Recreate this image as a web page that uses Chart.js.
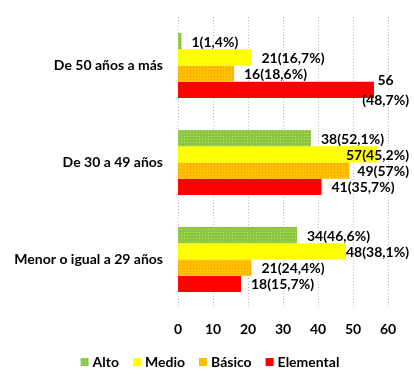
<!DOCTYPE html>
<html><head><meta charset="utf-8">
<script src="https://cdn.jsdelivr.net/npm/chart.js@4"></script>
<style>html,body{margin:0;padding:0;background:#fff}#wrap{width:414px;height:375px}</style>
</head><body><div id="wrap"><canvas id="c" width="414" height="375"></canvas></div>
<script>
const categories = ["De 50 años a más", "De 30 a 49 años", "Menor o igual a 29 años"];
const seriesNames = ["Alto", "Medio", "Básico", "Elemental"];
const alto = [1, 38, 34];
const medio = [21, 57, 48];
const basico = [16, 49, 21];
const elemental = [56, 41, 18];
const altoPct = [1.4, 52.1, 46.6];
const medioPct = [16.7, 45.2, 38.1];
const basicoPct = [18.6, 57, 24.4];
const elementalPct = [48.7, 35.7, 15.7];
const xTicks = [0, 10, 20, 30, 40, 50, 60];

const FONT = "Lato";

function pattern(base, dot) {
  const c = document.createElement('canvas');
  c.width = 3; c.height = 3;
  const g = c.getContext('2d');
  g.fillStyle = base; g.fillRect(0, 0, 3, 3);
  g.fillStyle = dot; g.fillRect(1, 1, 1, 1);
  return document.getElementById('c').getContext('2d').createPattern(c, 'repeat');
}
const greenFill = pattern('#8CC63F', '#B8E27A');
const orangeFill = pattern('#FFC000', '#F29A00');

const fmtPct = p => String(p).replace('.', ',');

const labelPlugin = {
  id: 'barLabels',
  afterDatasetsDraw(chart) {
    const ctx = chart.ctx;
    const rightLimit = chart.width - 5;
    ctx.save();
    ctx.font = `bold 14px ${FONT}`;
    ctx.fillStyle = '#000';
    ctx.textBaseline = 'middle';
    chart.data.datasets.forEach((ds, di) => {
      const meta = chart.getDatasetMeta(di);
      meta.data.forEach((el, i) => {
        const v = ds.data[i];
        const text = `${v}(${fmtPct(ds.pct[i])}%)`;
        const w = ctx.measureText(text).width;
        let x = el.x + 10;
        const y = el.y + 1;
        if (x + w > rightLimit && ds.wrapOverflow) {
          const l1 = String(v), l2 = `(${fmtPct(ds.pct[i])}%)`;
          const w2 = ctx.measureText(l2).width;
          const cx = rightLimit - w2 / 2;
          ctx.textAlign = 'center';
          ctx.fillText(l1, cx, y - 10);
          ctx.fillText(l2, cx, y + 10);
          return;
        }
        if (x + w > rightLimit) x = rightLimit - w;
        ctx.textAlign = 'left';
        ctx.fillText(text, x, y);
      });
    });
    ctx.restore();
  }
};

const legendPlugin = {
  id: 'customLegend',
  afterDraw(chart) {
    const ctx = chart.ctx;
    ctx.save();
    ctx.font = `bold 14px ${FONT}`;
    ctx.textBaseline = 'middle';
    const box = 8, gapText = 4, gapItem = 14, cy = 362, centerX = 210;
    const items = chart.data.datasets.map(ds => ({ ds, w: ctx.measureText(ds.label).width }));
    const total = items.reduce((s, it) => s + box + gapText + it.w, 0) + gapItem * (items.length - 1);
    let x = centerX - total / 2;
    items.forEach(it => {
      ctx.fillStyle = it.ds.backgroundColor;
      ctx.fillRect(x, cy - 4, box, box);
      ctx.fillStyle = '#000';
      ctx.textAlign = 'left';
      ctx.fillText(it.ds.label, x + box + gapText, cy);
      x += box + gapText + it.w + gapItem;
    });
    ctx.restore();
  }
};

new Chart(document.getElementById('c'), {
  type: 'bar',
  data: {
    labels: categories,
    datasets: [
      { label: seriesNames[0], data: alto, pct: altoPct, backgroundColor: greenFill },
      { label: seriesNames[1], data: medio, pct: medioPct, backgroundColor: '#FFFF00' },
      { label: seriesNames[2], data: basico, pct: basicoPct, backgroundColor: orangeFill },
      { label: seriesNames[3], data: elemental, pct: elementalPct, backgroundColor: '#FF0000', wrapOverflow: true }
    ]
  },
  options: {
    indexAxis: 'y',
    responsive: false,
    animation: false,
    devicePixelRatio: 1,
    layout: { padding: { top: 17, right: 26, left: 0, bottom: 37 } },
    datasets: { bar: { barPercentage: 1, categoryPercentage: 0.67, borderWidth: 0 } },
    scales: {
      x: {
        min: 0, max: 60,
        afterBuildTicks: s => { s.ticks = xTicks.map(v => ({ value: v })); },
        afterFit: s => { s.height = 30; s.paddingLeft = 0; s.paddingRight = 0; },
        grid: { display: false, drawTicks: false },
        border: { display: false },
        ticks: { color: '#000', font: { family: FONT, size: 14, weight: 'bold' }, padding: 13 }
      },
      y: {
        afterFit: s => { s.width = 178; s.paddingTop = 0; s.paddingBottom = 0; },
        grid: { display: false, drawTicks: false },
        border: { display: false },
        ticks: { color: '#000', font: { family: FONT, size: 14, weight: 'bold' }, padding: 15 }
      }
    },
    plugins: {
      legend: { display: false },
      tooltip: { enabled: false }
    }
  },
  plugins: [labelPlugin, legendPlugin, {
    id: 'dotGrid',
    beforeDatasetsDraw(chart) {
      const { ctx, chartArea, scales } = chart;
      ctx.save();
      ctx.strokeStyle = '#BFBFBF';
      ctx.lineWidth = 1;
      ctx.setLineDash([1, 2]);
      xTicks.forEach(v => {
        const x = Math.round(scales.x.getPixelForValue(v)) + 0.5;
        ctx.beginPath(); ctx.moveTo(x, chartArea.top); ctx.lineTo(x, chartArea.bottom); ctx.stroke();
      });
      ctx.restore();
    }
  }]
});
</script></body></html>
